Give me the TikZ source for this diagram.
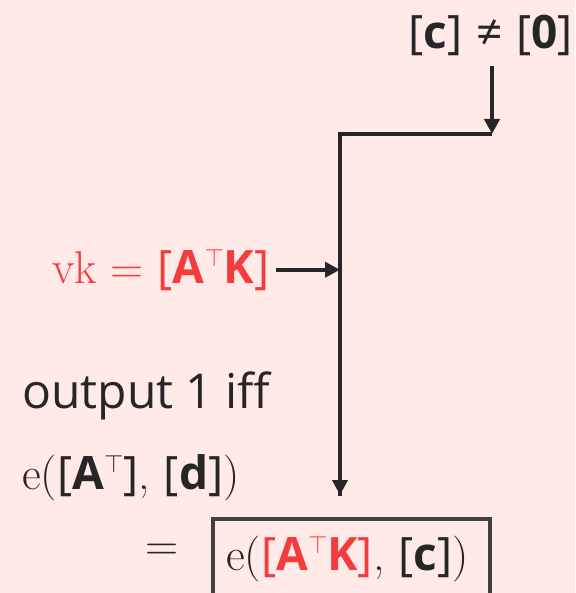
\documentclass[tikz,border=0pt]{standalone}
\usepackage{fontspec}
\newfontfamily\sansf{Open Sans}
\usetikzlibrary{arrows.meta}
\definecolor{bgpink}{HTML}{FFEAE8}
\definecolor{redtxt}{HTML}{F53C3C}
\definecolor{darktxt}{HTML}{262626}
\definecolor{boxline}{HTML}{404242}
\newcommand{\sfr}[1]{{\sansf #1}}
\newcommand{\sfb}[1]{{\sansf\bfseries #1}}
\newcommand{\tp}{\raisebox{0.36em}{\fontsize{30}{32}\selectfont$\top$}}
\tikzset{
  txt/.style={inner sep=0pt, text=darktxt, font=\fontsize{46}{52}\selectfont},
  conn/.style={line width=4pt, draw=darktxt},
  tip/.style={-{Triangle[length=15pt,width=15pt]}},
}
\begin{document}
\begin{tikzpicture}[x=1pt,y=-1pt]
\fill[bgpink] (0,0) rectangle (575,593);
\useasboundingbox (0,0) rectangle (575,593);
\node[txt, anchor=base east] (cne) at (573,49) {\sfr{[}\sfb{c}\sfr{]} \sfr{≠} \sfr{[}\sfb{0}\sfr{]}};
\coordinate (tr) at (492,134);
\coordinate (tl) at (340,134);
\coordinate (bot) at (340,495);
\draw[conn, tip] ([yshift=-10pt]cne.south -| tr) -- (tr);
\draw[conn, line join=miter] (tr) -- (tl) -- ([yshift=-1pt]bot);
\draw[conn, tip] (tl) -- (bot);
\node[txt, anchor=base west, text=redtxt] (vk) at (52,283) {vk = \sfr{[}\sfb{A}\tp\sfb{K}\sfr{]}};
\draw[conn, tip] ([xshift=6pt]vk.east) -- (vk.east -| tl);
\node[txt, anchor=base west, font=\fontsize{48}{54}\selectfont\sansf] (out) at (22,408) {output 1 iff};
\node[txt, anchor=base west] (lhs) at (22,489) {e(\sfr{[}\sfb{A}\tp\sfr{]}, \sfr{[}\sfb{d}\sfr{]})};
\node[txt] (eq) at (162,552) {=};
\node[draw=boxline, line width=4pt, anchor=north west, minimum width=277pt, minimum height=110pt, inner sep=0pt] (box) at (211,517) {};
\node[txt, anchor=base west] (rhs) at (226,570) {e(\textcolor{redtxt}{\sfr{[}\sfb{A}\tp\sfb{K}\sfr{]}}, \sfr{[}\sfb{c}\sfr{]})};
\end{tikzpicture}
\end{document}
